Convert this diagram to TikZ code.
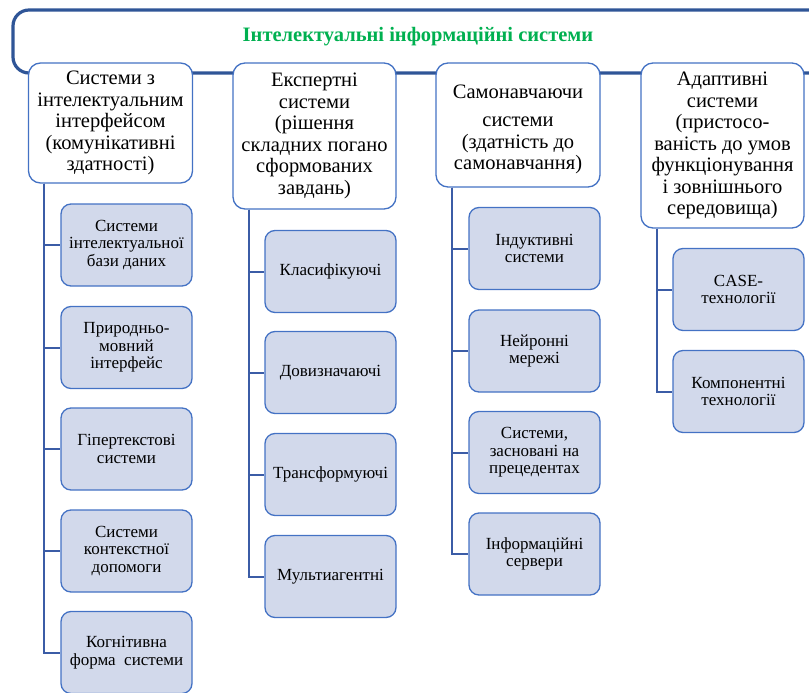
\documentclass[tikz,border=0pt]{standalone}
\usepackage{fontspec}
\setmainfont{Liberation Serif}
\usetikzlibrary{positioning, calc}
\definecolor{framebl}{HTML}{2F5597}
\definecolor{edgebl}{HTML}{4472C4}
\definecolor{linkbl}{HTML}{3B5CA6}
\definecolor{subfill}{HTML}{D2D9EB}
\definecolor{titlegr}{HTML}{00B050}
\tikzset{
	topframe/.style={draw=framebl, line width=3.2pt, rounded corners=16pt},
	heading/.style={text=titlegr, font=\fontsize{20.5}{22}\selectfont\bfseries},
	category/.style={rectangle, draw=edgebl, line width=1.3pt, fill=white, rounded corners=12pt,
		minimum width=164pt, align=center, inner sep=0pt, font=\fontsize{20.5}{21.5}\selectfont},
	subsys/.style={rectangle, draw=edgebl, line width=1.3pt, fill=subfill, rounded corners=10pt,
		minimum width=131pt, minimum height=82pt, align=center, inner sep=0pt,
		font=\fontsize{17}{17.5}\selectfont},
	link/.style={draw=linkbl, line width=2pt}
}

\begin{document}
\begin{tikzpicture}[x=1pt, y=-1pt]
			\useasboundingbox (0,0) rectangle (809,693);
			% Outer frame
			\begin{scope}
			\clip (0,0) rectangle (809,693);
			\draw[topframe] (830,73) -- (13,73) -- (13,10) -- (830,10);
			\end{scope}
			\node[heading] (T) at (418,37) {Інтелектуальні інформаційні системи};
			
			% Categories
			\node[category, minimum height=120pt] (C-1) at (110.5,123)
				{Системи з\\інтелектуальним\\інтерфейсом\\(комунікативні\\здатності)};
			\node[category, minimum width=163pt, minimum height=146pt] (C-2) at (314.5,136)
				{Експертні\\системи\\(рішення\\складних погано\\сформованих\\завдань)};
			\node[category, minimum height=124pt] (C-3) at (518,125)
				{\rule{0pt}{22pt}Самонавчаючи\\[7pt]системи\\(здатність до\\самонавчання)};
			\node[category, minimum width=163pt, minimum height=165pt] (C-4) at (722.5,145.5)
				{Адаптивні\\системи\\(пристосо-\\ваність до умов\\функціонування\\і зовнішнього\\середовища)};
			
			% Column 1
			\node[subsys] (S-1-1) at (126.5,245) {Системи\\інтелектуальної\\бази даних};
			\node[subsys] (S-1-2) at (126.5,347.5) {Природньо-\\мовний\\інтерфейс};
			\node[subsys] (S-1-3) at (126.5,449) {Гіпертекстові\\системи};
			\node[subsys] (S-1-4) at (126.5,551) {Системи\\контекстної\\допомоги};
			\node[subsys] (S-1-5) at (126.5,652.5) {Когнітивна\\форма\ \ системи};
			
			% Column 2
			\node[subsys] (S-2-1) at (330.5,271.5) {Класифікуючі};
			\node[subsys] (S-2-2) at (330.5,372.5) {Довизначаючі};
			\node[subsys] (S-2-3) at (330.5,474.5) {Трансформуючі};
			\node[subsys] (S-2-4) at (330.5,576.5) {Мультиагентні};
			
			% Column 3
			\node[subsys] (S-3-1) at (534.5,248.5) {Індуктивні\\системи};
			\node[subsys] (S-3-2) at (534.5,351) {Нейронні\\мережі};
			\node[subsys] (S-3-3) at (534.5,452.5) {Системи,\\засновані на\\прецедентах};
			\node[subsys] (S-3-4) at (534.5,554) {Інформаційні\\сервери};
			
			% Column 4
			\node[subsys] (S-4-1) at (738.5,289.5) {CASE-\\технології};
			\node[subsys] (S-4-2) at (738.5,391.5) {Компонентні\\технології};
			
			% Connections
			\foreach \c in {1,...,4}
			\coordinate (R-\c) at ($(C-\c.south west)!0.1!(C-\c.south east)$);
			\foreach \k in {1,...,5}
			\draw[link] (R-1) |- (S-1-\k.west);
			\foreach \k in {1,...,4}
			\draw[link] (R-2) |- (S-2-\k.west);
			\foreach \k in {1,...,4}
			\draw[link] (R-3) |- (S-3-\k.west);
			\foreach \k in {1,...,2}
			\draw[link] (R-4) |- (S-4-\k.west);
		\end{tikzpicture}
\end{document}
